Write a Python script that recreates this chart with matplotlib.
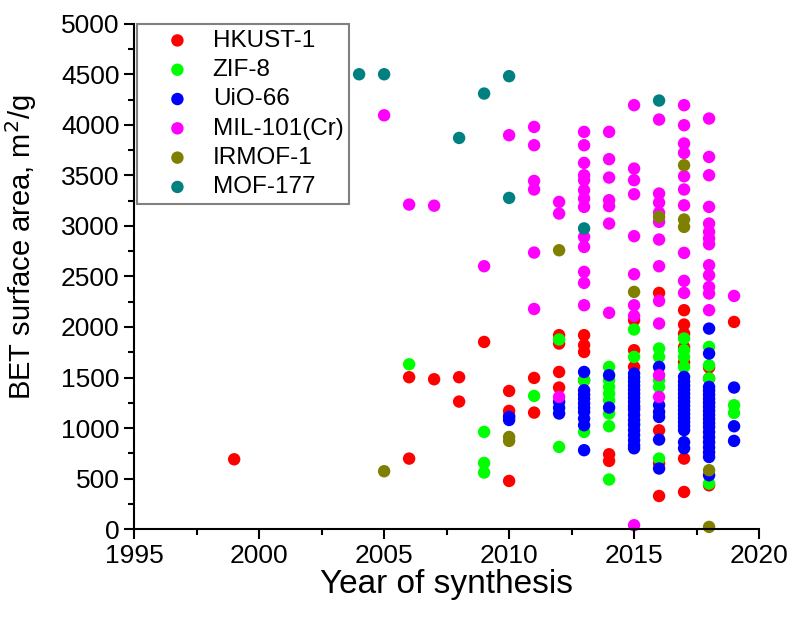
import matplotlib
matplotlib.use('Agg')
import matplotlib.pyplot as plt
from matplotlib.ticker import MultipleLocator

plt.rcParams['font.family'] = ['Liberation Sans', 'DejaVu Sans']

# BET surface area (m2/g) vs year of synthesis, per MOF
hkust_years = [1999, 2006, 2006, 2007, 2008, 2008, 2009, 2010, 2010, 2010, 2010,
               2011, 2011, 2012, 2012, 2012, 2012, 2013, 2013, 2013, 2013,
               2014, 2014, 2015, 2015, 2015, 2015, 2016, 2016, 2016, 2016,
               2017, 2017, 2017, 2017, 2017, 2017, 2017, 2018, 2018, 2018, 2019]
hkust_bet = [691, 1503, 698, 1483, 1503, 1262, 1852, 1367, 1170, 1120, 477,
             1496, 1153, 1919, 1836, 1555, 1401, 1919, 1820, 1753, 1473,
             741, 675, 2067, 1770, 1605, 1200, 2337, 978, 649, 328,
             2166, 2024, 1935, 1800, 1650, 698, 368, 1490, 1600, 434, 2050]

zif8_years = [2006, 2009, 2009, 2009, 2011, 2012, 2012, 2013, 2013,
              2014, 2014, 2014, 2014, 2014, 2014, 2014, 2014,
              2015, 2015, 2015, 2016, 2016, 2016, 2016, 2016,
              2017, 2017, 2017, 2017, 2018, 2018, 2018, 2018, 2018, 2019, 2019]
zif8_bet = [1631, 962, 655, 560, 1318, 1876, 813, 1473, 962,
            1605, 1473, 1407, 1341, 1275, 1144, 1018, 491,
            1975, 1704, 1045, 1787, 1704, 1473, 1407, 698,
            1886, 1770, 1704, 1605, 1803, 1621, 1490, 1250, 451, 1226, 1150]

uio66_years = [2010, 2010, 2012, 2012, 2012,
               2013, 2013, 2013, 2013, 2013, 2013, 2013, 2013, 2013, 2013,
               2014, 2014,
               2015, 2015, 2015, 2015, 2015, 2015, 2015, 2015, 2015,
               2015, 2015, 2015, 2015, 2015, 2015, 2015, 2015, 2015,
               2016, 2016, 2016, 2016, 2016, 2016,
               2017, 2017, 2017, 2017, 2017, 2017, 2017, 2017, 2017,
               2017, 2017, 2017, 2017, 2017, 2017, 2017,
               2018, 2018, 2018, 2018, 2018, 2018, 2018, 2018, 2018, 2018,
               2018, 2018, 2018, 2018, 2018, 2018, 2018, 2018, 2018, 2018,
               2019, 2019, 2019]
uio66_bet = [1110, 1080, 1259, 1200, 1144,
             1555, 1374, 1330, 1290, 1243, 1200, 1160, 1094, 1028, 781,
             1523, 1203,
             1539, 1500, 1460, 1420, 1380, 1340, 1300, 1260, 1220,
             1180, 1130, 1080, 1030, 980, 930, 880, 830, 800,
             1605, 1226, 1159, 1110, 886, 600,
             1506, 1460, 1420, 1380, 1340, 1300, 1260, 1220, 1180,
             1140, 1100, 1060, 1020, 980, 860, 800,
             1984, 1737, 1407, 1370, 1330, 1290, 1250, 1210, 1170, 1130,
             1090, 1050, 1010, 960, 910, 860, 810, 760, 714, 533,
             1401, 1018, 873]

mil101_years = [2005, 2006, 2007, 2009, 2010,
                2011, 2011, 2011, 2011, 2011, 2011, 2012, 2012, 2012,
                2013, 2013, 2013, 2013, 2013, 2013, 2013, 2013, 2013, 2013, 2013, 2013, 2013,
                2014, 2014, 2014, 2014, 2014, 2014, 2014,
                2015, 2015, 2015, 2015, 2015, 2015, 2015, 2015, 2015,
                2016, 2016, 2016, 2016, 2016, 2016, 2016, 2016, 2016, 2016, 2016,
                2017, 2017, 2017, 2017, 2017, 2017, 2017, 2017, 2017, 2017,
                2018, 2018, 2018, 2018, 2018, 2018, 2018, 2018, 2018, 2018, 2018, 2018, 2018,
                2019]
mil101_bet = [4094, 3211, 3200, 2601, 3897,
              3979, 3798, 3445, 3360, 2736, 2178, 3237, 3122, 1308,
              3930, 3798, 3623, 3501, 3452, 3353, 3270, 3188, 2891, 2792, 2545, 2436, 2215,
              3930, 3660, 3478, 3254, 3195, 3023, 2140,
              4194, 3567, 3452, 3313, 2898, 2522, 2215, 2110, 39,
              4052, 3320, 3230, 3130, 3040, 2865, 2601, 2258, 2034, 1523, 1308,
              4194, 3996, 3815, 3722, 3491, 3360, 3204, 2733, 2456, 2337,
              4062, 3682, 3501, 3188, 3023, 2940, 2875, 2819, 2611, 2512, 2396, 2331, 2166,
              2307]

irmof1_years = [2005, 2010, 2010, 2012, 2015, 2016, 2017, 2017, 2017, 2018, 2018]
irmof1_bet = [573, 912, 873, 2759, 2347, 3089, 3600, 3063, 2990, 583, 22]

mof177_years = [2004, 2005, 2008, 2009, 2010, 2010, 2013, 2016]
mof177_bet = [4500, 4500, 3870, 4309, 4481, 3277, 2975, 4240]

series = [
    ('HKUST-1', hkust_years, hkust_bet, '#ff0000'),
    ('ZIF-8', zif8_years, zif8_bet, '#00ff00'),
    ('UiO-66', uio66_years, uio66_bet, '#0000ff'),
    ('MIL-101(Cr)', mil101_years, mil101_bet, '#ff00ff'),
    ('IRMOF-1', irmof1_years, irmof1_bet, '#808000'),
    ('MOF-177', mof177_years, mof177_bet, '#008080'),
]

fig = plt.figure(figsize=(7.94, 6.24), dpi=100)
ax = fig.add_axes([0.169, 0.152, 0.787, 0.810])

for name, xs, ys, col in series:
    ax.scatter(xs, ys, s=80, color=col, edgecolors='none', label=name, clip_on=False)

ax.set_xlim(1995, 2020)
ax.set_ylim(0, 5000)
ax.xaxis.set_major_locator(MultipleLocator(5))
ax.xaxis.set_minor_locator(MultipleLocator(2.5))
ax.yaxis.set_major_locator(MultipleLocator(500))
ax.yaxis.set_minor_locator(MultipleLocator(250))

ax.spines['top'].set_visible(False)
ax.spines['right'].set_visible(False)
for sp in ['left', 'bottom']:
    ax.spines[sp].set_linewidth(1.5)
ax.tick_params(which='major', direction='out', length=7, width=1.5, labelsize=19)
ax.tick_params(which='minor', direction='out', length=4, width=1.5)

ax.set_xlabel('Year of synthesis', fontsize=24, labelpad=1)
ax.set_ylabel('BET surface area, m$^2$/g', fontsize=21)
ax.yaxis.set_label_coords(-0.153, 0.557)

leg = ax.legend(loc='upper left', bbox_to_anchor=(0.005, 1.0), borderaxespad=0,
                fontsize=17.5, frameon=True, fancybox=False, framealpha=1,
                handlelength=2.8, handletextpad=0.05, labelspacing=0.3,
                borderpad=0.25)
leg.get_frame().set_edgecolor('#808080')
leg.get_frame().set_linewidth(1.5)

plt.savefig('out.png', dpi=100)
